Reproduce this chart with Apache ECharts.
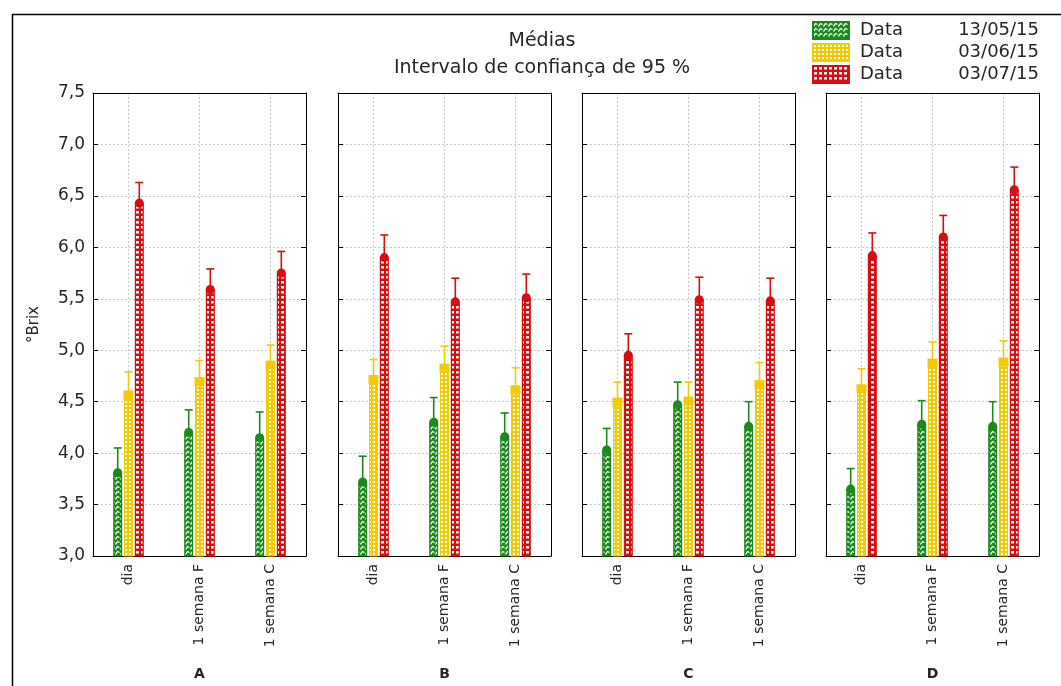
<!DOCTYPE html>
<html>
<head>
<meta charset="utf-8">
<script src="https://cdn.jsdelivr.net/npm/echarts@6/dist/echarts.min.js"></script>
<style>
  html, body { margin: 0; padding: 0; background: #fff; }
  #chart { width: 1061px; height: 686px; }
</style>
</head>
<body>
<div id="chart"></div>
<script>
// Categories, panels and sampling dates
const categories = ['dia', '1 semana F', '1 semana C'];
const panels = ['A', 'B', 'C', 'D'];
const dates = ['13/05/15', '03/06/15', '03/07/15'];
const yTicks = [3.0, 3.5, 4.0, 4.5, 5.0, 5.5, 6.0, 6.5, 7.0, 7.5];

// Mean °Brix per panel (A..D), each with [dia, 1 semana F, 1 semana C]
const media130515 = [[3.81, 4.20, 4.15], [3.72, 4.30, 4.16], [4.03, 4.47, 4.26], [3.65, 4.28, 4.26]];
const media030615 = [[4.57, 4.70, 4.86], [4.72, 4.83, 4.62], [4.50, 4.51, 4.67], [4.63, 4.88, 4.89]];
const media030715 = [[6.43, 5.59, 5.75], [5.90, 5.47, 5.51], [4.95, 5.49, 5.48], [5.92, 6.10, 6.56]];

// Upper limit of the 95 % confidence interval
const limSup130515 = [[4.05, 4.42, 4.40], [3.97, 4.54, 4.39], [4.24, 4.69, 4.50], [3.85, 4.51, 4.50]];
const limSup030615 = [[4.79, 4.90, 5.05], [4.91, 5.04, 4.83], [4.69, 4.69, 4.88], [4.82, 5.08, 5.09]];
const limSup030715 = [[6.63, 5.79, 5.96], [6.12, 5.70, 5.74], [5.16, 5.71, 5.70], [6.14, 6.31, 6.78]];

const medias = [media130515, media030615, media030715];
const limites = [limSup130515, limSup030615, limSup030715];
const colors = ['#1a8a1a', '#f2cc00', '#d90d0d'];

// Small repeating tiles used as hatch fills for the bars
function makeTile(kind) {
  const c = document.createElement('canvas');
  const ctx = c.getContext('2d');
  if (kind === 0) {
    c.width = 5; c.height = 5;
    ctx.fillStyle = colors[0]; ctx.fillRect(0, 0, 5, 5);
    ctx.strokeStyle = '#fff'; ctx.lineWidth = 1.3;
    ctx.beginPath(); ctx.moveTo(0.5, 4.5); ctx.lineTo(2.5, 1.5); ctx.lineTo(4.5, 2.5); ctx.stroke();
  } else if (kind === 1) {
    c.width = 4; c.height = 4;
    ctx.fillStyle = colors[1]; ctx.fillRect(0, 0, 4, 4);
    ctx.fillStyle = '#fff'; ctx.fillRect(1, 1, 2, 2);
  } else {
    c.width = 5; c.height = 5;
    ctx.fillStyle = colors[2]; ctx.fillRect(0, 0, 5, 5);
    ctx.fillStyle = '#fff'; ctx.fillRect(1, 1, 3, 2.5);
  }
  return c;
}
const fills = [0, 1, 2].map(k => ({ image: makeTile(k), repeat: 'repeat' }));

const FONT = 'DejaVu Sans';
const TXT = '#262626';
const BAR_W = 9;
const BAR_GAP = 0.2;
const STEP = BAR_W * (1 + BAR_GAP);

const gridLefts = [93, 338, 582, 826];
const GRID_W = 213;

const grid = [], xAxis = [], yAxis = [], series = [];

panels.forEach((p, g) => {
  grid.push({ left: gridLefts[g], width: GRID_W, top: 93, bottom: 129, show: false });

  // bottom category axis (labels + panel letter)
  xAxis.push({
    type: 'category', gridIndex: g, data: categories, position: 'bottom',
    axisLine: { lineStyle: { color: '#000', width: 1 } },
    axisTick: { inside: true, alignWithLabel: true, length: 5, lineStyle: { color: '#000' } },
    axisLabel: { rotate: 90, margin: 8, fontFamily: FONT, fontSize: 14, color: TXT },
    splitLine: { show: true, alignWithLabel: true, lineStyle: { color: '#c8c8c8', type: [2, 2] } },
    name: p, nameLocation: 'middle', nameGap: 111,
    nameTextStyle: { fontFamily: FONT, fontSize: 14, fontWeight: 'bold', color: TXT }
  });
  // top frame axis
  xAxis.push({
    type: 'category', gridIndex: g, data: categories, position: 'top',
    axisLine: { lineStyle: { color: '#000', width: 1 } },
    axisTick: { inside: true, alignWithLabel: true, length: 5, lineStyle: { color: '#000' } },
    axisLabel: { show: false }, splitLine: { show: false }
  });

  // left value axis
  yAxis.push({
    type: 'value', gridIndex: g, min: 3, max: 7.5, interval: 0.5, position: 'left',
    axisLine: { show: true, lineStyle: { color: '#000', width: 1 } },
    axisTick: { show: true, inside: true, length: 5, lineStyle: { color: '#000' } },
    axisLabel: {
      show: g === 0, margin: 8, fontFamily: FONT, fontSize: 17, color: TXT,
      formatter: v => v.toFixed(1).replace('.', ',')
    },
    splitLine: { show: true, lineStyle: { color: '#c8c8c8', type: [2, 2] } },
    name: g === 0 ? '°Brix' : '', nameLocation: 'middle', nameRotate: 90, nameGap: 51,
    nameTextStyle: { fontFamily: FONT, fontSize: 15, color: TXT }
  });
  // right frame axis
  yAxis.push({
    type: 'value', gridIndex: g, min: 3, max: 7.5, interval: 0.5, position: 'right',
    axisLine: { show: true, lineStyle: { color: '#000', width: 1 } },
    axisTick: { show: true, inside: true, length: 5, lineStyle: { color: '#000' } },
    axisLabel: { show: false }, splitLine: { show: false }
  });

  dates.forEach((d, k) => {
    const name = 'Data ' + d;
    series.push({
      type: 'bar', name, xAxisIndex: 2 * g, yAxisIndex: 2 * g,
      barWidth: BAR_W, barGap: (BAR_GAP * 100) + '%',
      itemStyle: { color: fills[k], borderColor: colors[k], borderWidth: 1.2 },
      data: medias[k][g], z: 2, silent: true
    });
  });
  // error whiskers and markers at the mean
  dates.forEach((d, k) => {
    series.push({
      type: 'custom', name: 'Data ' + d, xAxisIndex: 2 * g, yAxisIndex: 2 * g, z: 4, silent: true,
      data: categories.map((c, i) => [i, medias[k][g][i], limites[k][g][i]]),
      encode: { x: 0, y: [1, 2] },
      renderItem: (params, api) => {
        const m = api.coord([api.value(0), api.value(1)]);
        const u = api.coord([api.value(0), api.value(2)]);
        const x = m[0] + (k - 1) * STEP;
        const col = colors[k];
        const ls = { stroke: col, lineWidth: 1.6 };
        const marker = k === 1
          ? { type: 'rect', shape: { x: x - 5, y: m[1] - 4, width: 10, height: 9 }, style: { fill: col } }
          : { type: 'circle', shape: { cx: x, cy: m[1], r: 4.5 }, style: { fill: col } };
        return {
          type: 'group', children: [
            { type: 'line', shape: { x1: x, y1: m[1], x2: x, y2: u[1] }, style: ls },
            { type: 'line', shape: { x1: x - 4, y1: u[1], x2: x + 4, y2: u[1] }, style: ls },
            marker
          ]
        };
      }
    });
  });
});

const chart = echarts.init(document.getElementById('chart'), null, { renderer: 'canvas' });
chart.setOption({
  animation: false,
  backgroundColor: '#fff',
  title: {
    text: 'Médias', subtext: 'Intervalo de confiança de 95 %',
    left: 537, textAlign: 'center', top: 27, itemGap: 8,
    textStyle: { fontFamily: FONT, fontSize: 19, fontWeight: 'normal', color: TXT },
    subtextStyle: { fontFamily: FONT, fontSize: 19, color: TXT }
  },
  legend: {
    orient: 'vertical', left: 812, top: 21, itemWidth: 36, itemHeight: 17, itemGap: 3,
    padding: 0,
    data: dates.map(d => ({ name: 'Data ' + d, icon: 'rect' })),
    selectedMode: false,
    formatter: n => '{a|Data}{b|' + n.slice(5) + '}',
    textStyle: {
      fontFamily: FONT, fontSize: 18, color: TXT,
      rich: {
        a: { fontFamily: FONT, fontSize: 18, color: TXT, width: 92, padding: [0, 0, 0, 6] },
        b: { fontFamily: FONT, fontSize: 18, color: TXT, width: 87, align: 'right' }
      }
    }
  },
  graphic: [{
    type: 'rect', left: 10, top: 12, silent: true, z: 100,
    shape: { width: 1100, height: 800 },
    style: { fill: 'none', stroke: '#000', lineWidth: 1.5 }
  }],
  grid, xAxis, yAxis, series
});
</script>
</body>
</html>
